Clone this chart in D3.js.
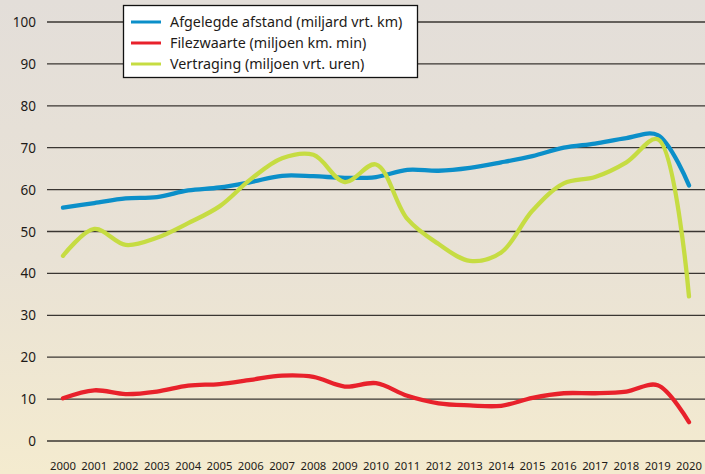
<!DOCTYPE html>
<html>
<head>
<meta charset="utf-8">
<script src="https://cdn.jsdelivr.net/npm/d3@7"></script>
<style>
  body { margin: 0; }
  svg { display: block; font-family: "Noto Sans", "DejaVu Sans", sans-serif; }
</style>
</head>
<body>
<div id="chart"></div>
<script>
var svgWidth = 705;
var svgHeight = 474;

var years = [2000, 2001, 2002, 2003, 2004, 2005, 2006, 2007, 2008, 2009, 2010,
             2011, 2012, 2013, 2014, 2015, 2016, 2017, 2018, 2019, 2020];
var afstand = [55.7, 56.8, 57.9, 58.2, 59.8, 60.5, 61.8, 63.3, 63.2, 62.8, 63.0,
               64.7, 64.5, 65.2, 66.5, 68.0, 70.0, 71.0, 72.3, 73.0, 61.0];
var filezwaarte = [10.2, 12.1, 11.2, 11.8, 13.2, 13.6, 14.6, 15.6, 15.3, 13.0, 13.8,
                   10.8, 9.0, 8.5, 8.4, 10.3, 11.4, 11.4, 11.8, 13.3, 4.5];
var vertraging = [44.2, 50.6, 46.8, 48.5, 52.0, 56.0, 62.5, 67.5, 68.3, 61.8, 66.0,
                  53.0, 47.0, 43.0, 45.0, 55.0, 61.5, 63.0, 66.5, 72.0, 34.5];
var yTicks = [0, 10, 20, 30, 40, 50, 60, 70, 80, 90, 100];
var seriesNames = ["Afgelegde afstand (miljard vrt. km)", "Filezwaarte (miljoen km. min)", "Vertraging (miljoen vrt. uren)"];
var seriesColors = ["#0b8fc9", "#e8212b", "#c6dc42"];

var svg = d3.select("#chart")
    .append("svg")
    .attr("width", svgWidth)
    .attr("height", svgHeight);

// background gradient
var grad = svg.append("defs").append("linearGradient")
    .attr("id", "bg")
    .attr("x1", 0).attr("y1", 0).attr("x2", 0).attr("y2", 1);
grad.append("stop").attr("offset", "0%").attr("stop-color", "#e3ded9");
grad.append("stop").attr("offset", "55%").attr("stop-color", "#e9e2d5");
grad.append("stop").attr("offset", "100%").attr("stop-color", "#f4ebcf");
svg.append("rect")
    .attr("width", svgWidth)
    .attr("height", svgHeight)
    .attr("fill", "url(#bg)");

var x = d3.scaleLinear().domain([2000, 2020]).range([63, 689]);
var y = d3.scaleLinear().domain([0, 100]).range([441, 22]);

// gridlines
svg.selectAll(".grid")
    .data(yTicks)
    .enter()
    .append("line")
    .attr("x1", 47)
    .attr("x2", svgWidth)
    .attr("y1", function(d) { return y(d); })
    .attr("y2", function(d) { return y(d); })
    .attr("stroke", "#3a3632")
    .attr("stroke-width", 1.3);

svg.selectAll(".ylab")
    .data(yTicks)
    .enter()
    .append("text")
    .text(function(d) { return d; })
    .attr("x", 36)
    .attr("y", function(d) { return y(d) + 5; })
    .attr("text-anchor", "end")
    .attr("font-size", "13.5px")
    .attr("fill", "#1e1b18");

svg.selectAll(".xlab")
    .data(years)
    .enter()
    .append("text")
    .text(function(d) { return d; })
    .attr("x", function(d) { return x(d); })
    .attr("y", 470)
    .attr("text-anchor", "middle")
    .attr("font-size", "11.3px")
    .attr("fill", "#1e1b18");

var line = d3.line()
    .x(function(d, i) { return x(years[i]); })
    .y(function(d) { return y(d); })
    .curve(d3.curveCatmullRom.alpha(0.5));

var allSeries = [afstand, filezwaarte, vertraging];
// draw order: blue first, green, red on top
[0, 2, 1].forEach(function(k) {
    svg.append("path")
        .datum(allSeries[k])
        .attr("d", line)
        .attr("fill", "none")
        .attr("stroke", seriesColors[k])
        .attr("stroke-width", 4.3)
        .attr("stroke-linecap", "round")
        .attr("stroke-linejoin", "round");
});

// legend
var legend = svg.append("g");
legend.append("rect")
    .attr("x", 123.5)
    .attr("y", 5.5)
    .attr("width", 294)
    .attr("height", 72)
    .attr("fill", "#ffffff")
    .attr("stroke", "#111")
    .attr("stroke-width", 1.3);

seriesNames.forEach(function(name, i) {
    var ly = 22 + i * 21;
    legend.append("line")
        .attr("x1", 131).attr("x2", 161)
        .attr("y1", ly).attr("y2", ly)
        .attr("stroke", seriesColors[i])
        .attr("stroke-width", 3);
    legend.append("text")
        .text(name)
        .attr("x", 170)
        .attr("y", ly + 5)
        .attr("font-size", "14.3px")
        .attr("fill", "#1e1b18");
});
</script>
</body>
</html>
